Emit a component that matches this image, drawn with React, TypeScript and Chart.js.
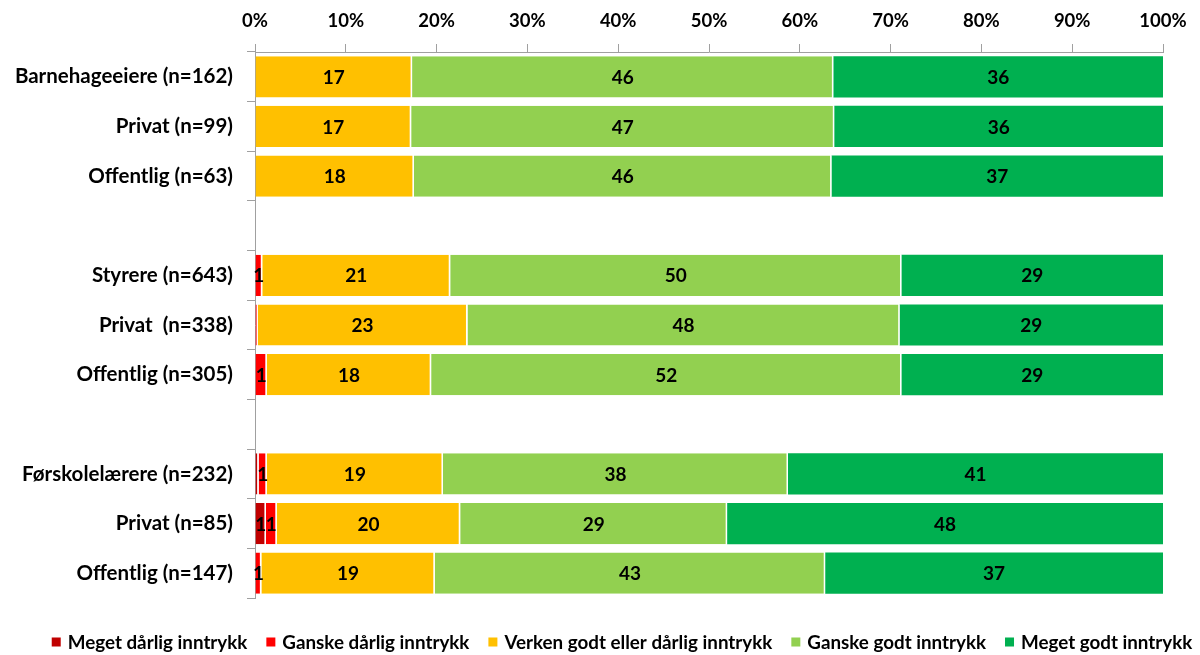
import React, { useEffect, useRef } from "react";
import { Chart, registerables } from "chart.js";

Chart.register(...registerables);

const categories = [
  "Barnehageeiere (n=162)",
  "Privat (n=99)",
  "Offentlig (n=63)",
  "",
  "Styrere (n=643)",
  "Privat  (n=338)",
  "Offentlig (n=305)",
  "",
  "Førskolelærere (n=232)",
  "Privat (n=85)",
  "Offentlig (n=147)",
];

const seriesNames = [
  "Meget dårlig inntrykk",
  "Ganske dårlig inntrykk",
  "Verken godt eller dårlig inntrykk",
  "Ganske godt inntrykk",
  "Meget godt inntrykk",
];

const seriesColors = ["#C00000", "#FF0000", "#FFC000", "#92D050", "#00B050"];

const megetDarlig = [0, 0, 0, null, 0, 0, 0, null, 0.4, 1.2, 0];
const ganskeDarlig = [0, 0, 0, null, 0.8, 0.3, 1.3, null, 0.9, 1.2, 0.7];
const verken = [17.3, 17.2, 17.5, null, 20.7, 23.1, 18.1, null, 19.4, 20.2, 19.1];
const ganskeGodt = [46.4, 46.6, 46.0, null, 49.7, 47.6, 51.8, null, 38.0, 29.4, 43.0];
const megetGodt = [36.3, 36.2, 36.5, null, 28.8, 29.0, 28.8, null, 41.3, 48.0, 37.2];

const seriesValues = [megetDarlig, ganskeDarlig, verken, ganskeGodt, megetGodt];

const xTicks = [0, 10, 20, 30, 40, 50, 60, 70, 80, 90, 100];

const FONT = "Lato, 'Open Sans', sans-serif";

const labelPlugin = {
  id: "segLabels",
  afterDatasetsDraw(chart: any) {
    const ctx = chart.ctx;
    ctx.save();
    ctx.font = `bold 19px ${FONT}`;
    ctx.fillStyle = "#000";
    ctx.textAlign = "center";
    ctx.textBaseline = "middle";
    chart.data.datasets.forEach((ds: any, i: number) => {
      const meta = chart.getDatasetMeta(i);
      meta.data.forEach((bar: any, j: number) => {
        const v = ds.data[j];
        if (v == null) return;
        const r = Math.round(v);
        if (r < 1) return;
        const cx = (bar.x + bar.base) / 2;
        ctx.fillText(String(r), cx, bar.y + 1);
      });
    });
    ctx.restore();
  },
};

const legendPlugin = {
  id: "customLegend",
  afterDraw(chart: any) {
    const ctx = chart.ctx;
    ctx.save();
    ctx.font = `bold 18.8px ${FONT}`;
    ctx.textAlign = "left";
    ctx.textBaseline = "middle";
    const box = 9;
    const gap = 7;
    const itemGap = 19;
    const widths = seriesNames.map((n) => ctx.measureText(n).width);
    const total =
      widths.reduce((a, w) => a + box + gap + w, 0) + itemGap * (seriesNames.length - 1);
    let x = 622 - total / 2;
    const y = 642;
    seriesNames.forEach((n, i) => {
      ctx.fillStyle = seriesColors[i];
      ctx.fillRect(x, y - box / 2, box, box);
      ctx.fillStyle = "#000";
      ctx.fillText(n, x + box + gap, y + 1);
      x += box + gap + widths[i] + itemGap;
    });
    ctx.restore();
  },
};

export default function App() {
  const ref = useRef<HTMLCanvasElement>(null);
  useEffect(() => {
    document.body.style.margin = "0";
    const chart = new Chart(ref.current!, {
      type: "bar",
      data: {
        labels: categories,
        datasets: seriesNames.map((name, i) => ({
          label: name,
          data: seriesValues[i] as any,
          backgroundColor: seriesColors[i],
          borderColor: "#ffffff",
          borderWidth: {
            left: 0,
            right: i === seriesNames.length - 1 ? 0 : 1.5,
            top: 0,
            bottom: 0,
          },
          borderSkipped: false,
          barPercentage: 0.83,
          categoryPercentage: 1,
        })),
      },
      options: {
        indexAxis: "y",
        animation: false,
        responsive: false,
        maintainAspectRatio: false,
        layout: { padding: { left: 12, right: 37, top: 10, bottom: 57 } },
        scales: {
          x: {
            position: "top",
            stacked: true,
            min: 0,
            max: 100,
            afterBuildTicks(axis: any) {
              axis.ticks = xTicks.map((v) => ({ value: v }));
            },
            afterFit(scale: any) {
              scale.height = 42;
            },
            ticks: {
              callback: (v: any) => v + "%",
              font: { family: FONT, size: 18.5, weight: "bold" },
              color: "#000",
              padding: 12,
              maxRotation: 0,
            },
            grid: {
              drawOnChartArea: false,
              drawTicks: true,
              tickLength: 8,
              color: "#a0a0a0",
            },
            border: { display: true, color: "#a0a0a0", width: 1 },
          },
          y: {
            stacked: true,
            afterFit(scale: any) {
              scale.width = 243;
            },
            ticks: {
              font: { family: FONT, size: 20.5, weight: "bold" },
              color: "#000",
              padding: 14,
            },
            grid: {
              drawOnChartArea: false,
              drawTicks: true,
              tickLength: 8,
              offset: true,
              color: "#a0a0a0",
            },
            border: { display: true, color: "#a0a0a0", width: 1 },
          },
        },
        plugins: {
          legend: { display: false },
          tooltip: { enabled: false },
        },
      },
      plugins: [labelPlugin, legendPlugin],
    });
    return () => chart.destroy();
  }, []);
  return (
    <div style={{ width: 1200, height: 655 }}>
      <canvas ref={ref} width={1200} height={655} style={{ display: "block" }} />
    </div>
  );
}
